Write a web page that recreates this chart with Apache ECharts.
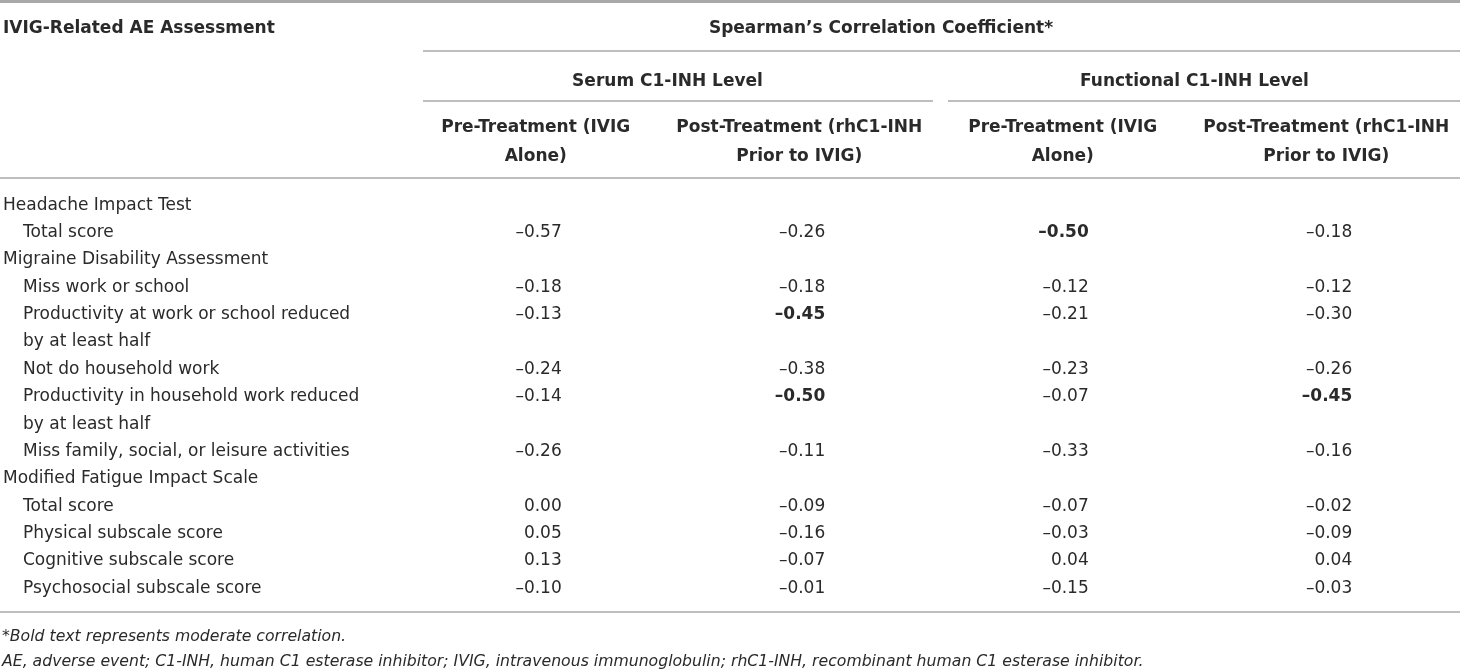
<!DOCTYPE html>
<html>
<head>
<meta charset="utf-8">
<script src="https://cdn.jsdelivr.net/npm/echarts@6/dist/echarts.min.js"></script>
<style>
  html, body { margin: 0; padding: 0; background: #fff; }
  #main { width: 1460px; height: 669px; }
</style>
</head>
<body>
<div id="main"></div>
<script>
// row labels of the table (indent 1 = sub item)
const rowLabels = [
    'Headache Impact Test',
    'Total score',
    'Migraine Disability Assessment',
    'Miss work or school',
    'Productivity at work or school reduced',
    'by at least half',
    'Not do household work',
    'Productivity in household work reduced',
    'by at least half',
    'Miss family, social, or leisure activities',
    'Modified Fatigue Impact Scale',
    'Total score',
    'Physical subscale score',
    'Cognitive subscale score',
    'Psychosocial subscale score'
];
const rowIndent = [0, 1, 0, 1, 1, 1, 1, 1, 1, 1, 0, 1, 1, 1, 1];

const columnLabels = [
    'Pre-Treatment (IVIG\nAlone)',
    'Post-Treatment (rhC1-INH\nPrior to IVIG)',
    'Pre-Treatment (IVIG\nAlone)',
    'Post-Treatment (rhC1-INH\nPrior to IVIG)'
];
const groupLabels = ['Serum C1-INH Level', 'Functional C1-INH Level'];

// Spearman's correlation coefficients, null = no value on that line
const serumPre   = [null, -0.57, null, -0.18, -0.13, null, -0.24, -0.14, null, -0.26, null, 0.00, 0.05, 0.13, -0.10];
const serumPost  = [null, -0.26, null, -0.18, -0.45, null, -0.38, -0.50, null, -0.11, null, -0.09, -0.16, -0.07, -0.01];
const funcPre    = [null, -0.50, null, -0.12, -0.21, null, -0.23, -0.07, null, -0.33, null, -0.07, -0.03, 0.04, -0.15];
const funcPost   = [null, -0.18, null, -0.12, -0.30, null, -0.26, -0.45, null, -0.16, null, -0.02, -0.09, 0.04, -0.03];

// cells in bold (column, row) = moderate correlation
const boldCells = [[1, 4], [1, 7], [2, 1], [3, 7]];

const FONT = '"DejaVu Sans", sans-serif';
const TEXT = '#2a2a2a';
const RULE = '#a8a8a8';

function fmt(v) {
    return v.toFixed(2).replace('-', '\u2013');
}

function isBold(col, row) {
    return boldCells.some(c => c[0] === col && c[1] === row);
}

function makeSeries(values, col) {
    let data = [];
    values.forEach((v, row) => {
        if (v === null) return;
        data.push({
            value: [col, row, v],
            label: { fontWeight: isBold(col, row) ? 'bold' : 'normal', color: TEXT }
        });
    });
    return {
        type: 'scatter',
        symbolSize: 1,
        itemStyle: { color: 'rgba(0,0,0,0)', opacity: 1 },
        silent: true,
        label: {
            show: true,
            position: 'inside',
            align: 'right',
            offset: [26, 0],
            fontFamily: FONT,
            fontSize: 17,
            color: TEXT,
            formatter: p => fmt(p.value[2])
        },
        data: data
    };
}

let myChart = echarts.init(document.getElementById('main'));

let option = {
    animation: false,
    backgroundColor: '#fff',
    grid: { left: 404, right: 2, top: 191.5, bottom: 67 },
    xAxis: [{
        type: 'category',
        position: 'top',
        data: columnLabels,
        axisLine: { show: false },
        axisTick: { show: false },
        axisLabel: {
            interval: 0,
            margin: 20,
            fontFamily: FONT,
            fontSize: 17,
            fontWeight: 'bold',
            lineHeight: 29,
            color: TEXT
        }
    }, {
        type: 'category',
        position: 'top',
        offset: 98,
        data: groupLabels,
        axisLine: { show: false },
        axisTick: { show: false },
        axisLabel: {
            interval: 0,
            margin: 3,
            fontFamily: FONT,
            fontSize: 17,
            fontWeight: 'bold',
            color: TEXT
        }
    }],
    yAxis: {
        type: 'category',
        inverse: true,
        data: rowLabels.map((_, i) => String(i)),
        axisLine: { show: false },
        axisTick: { show: false },
        splitLine: { show: false },
        axisLabel: {
            interval: 0,
            align: 'left',
            margin: 401,
            formatter: (val, idx) => rowIndent[idx] ? '{sub|' + rowLabels[idx] + '}' : '{top|' + rowLabels[idx] + '}',
            rich: {
                top: { fontFamily: FONT, fontSize: 17, color: TEXT },
                sub: { fontFamily: FONT, fontSize: 17, color: TEXT, padding: [0, 0, 0, 20] }
            }
        }
    },
    series: [
        makeSeries(serumPre, 0),
        makeSeries(serumPost, 1),
        makeSeries(funcPre, 2),
        makeSeries(funcPost, 3)
    ],
    graphic: [
        // table rules
        { type: 'line', shape: { x1: 0, y1: 1.5, x2: 1460, y2: 1.5 }, style: { stroke: RULE, lineWidth: 3 } },
        { type: 'line', shape: { x1: 423, y1: 51, x2: 1460, y2: 51 }, style: { stroke: RULE, lineWidth: 1.5 } },
        { type: 'line', shape: { x1: 423, y1: 101, x2: 933, y2: 101 }, style: { stroke: RULE, lineWidth: 1.5 } },
        { type: 'line', shape: { x1: 948, y1: 101, x2: 1460, y2: 101 }, style: { stroke: RULE, lineWidth: 1.5 } },
        { type: 'line', shape: { x1: 0, y1: 178, x2: 1460, y2: 178 }, style: { stroke: RULE, lineWidth: 1.5 } },
        { type: 'line', shape: { x1: 0, y1: 612, x2: 1460, y2: 612 }, style: { stroke: RULE, lineWidth: 1.5 } },
        // header texts
        {
            type: 'text', left: 3, top: 20,
            style: { text: 'IVIG-Related AE Assessment', fontFamily: FONT, fontSize: 17, fontWeight: 'bold', fill: TEXT }
        },
        {
            type: 'text', x: 881, y: 29,
            style: { text: 'Spearman\u2019s Correlation Coefficient*', fontFamily: FONT, fontSize: 17, fontWeight: 'bold', fill: TEXT, align: 'center', verticalAlign: 'middle' }
        },
        // footnotes
        {
            type: 'text', left: 2, top: 629,
            style: { text: '*Bold text represents moderate correlation.', fontFamily: FONT, fontSize: 15.7, fontStyle: 'italic', fill: TEXT }
        },
        {
            type: 'text', left: 2, top: 654,
            style: { text: 'AE, adverse event; C1-INH, human C1 esterase inhibitor; IVIG, intravenous immunoglobulin; rhC1-INH, recombinant human C1 esterase inhibitor.', fontFamily: FONT, fontSize: 15.7, fontStyle: 'italic', fill: TEXT }
        }
    ]
};

myChart.setOption(option);

window.addEventListener('resize', function() {
    myChart.resize();
});
</script>
</body>
</html>
